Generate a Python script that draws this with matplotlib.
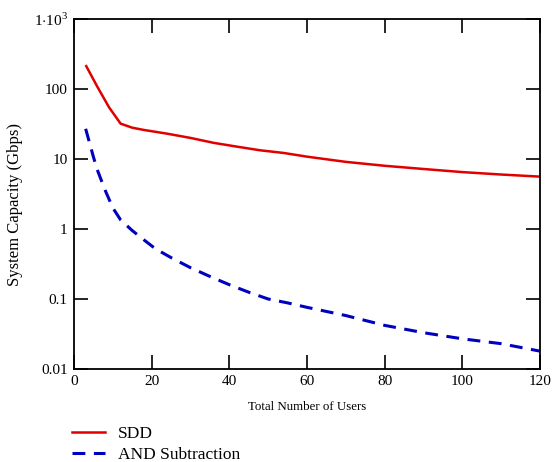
import matplotlib
matplotlib.use("Agg")
import matplotlib.pyplot as plt
from matplotlib.lines import Line2D

sdd_x = [3, 6, 9, 12, 15, 18, 24, 30, 36, 42, 48, 54, 60, 70, 80, 90, 100, 110, 120]
sdd_y = [220, 108, 55, 32, 28, 26, 23, 20, 17, 15, 13.3, 12.2, 10.8, 9.1, 8.0, 7.2, 6.5, 6.0, 5.6]

and_x = [3, 4, 5, 6, 8, 10, 12, 15, 18, 21, 25, 30, 35, 40, 45, 50, 55, 60, 70, 80, 90, 100, 110, 120]
and_y = [27, 17, 10.7, 7, 3.6, 2.0, 1.35, 0.95, 0.7, 0.52, 0.39, 0.28, 0.21, 0.16, 0.125, 0.1,
         0.088, 0.076, 0.058, 0.042, 0.033, 0.027, 0.023, 0.018]

x_ticks = [0, 20, 40, 60, 80, 100, 120]
y_ticks = [0.01, 0.1, 1, 10, 100, 1000]
y_tick_labels = ["0.01", "0.1", "1", "10", "100", r"1$\cdot$10$^{3}$"]

plt.rcParams['font.family'] = ['Liberation Serif', 'DejaVu Serif']
plt.rcParams['mathtext.fontset'] = 'custom'
plt.rcParams['mathtext.rm'] = 'Liberation Serif'

fig = plt.figure(figsize=(5.57, 4.62), dpi=100)
ax = fig.add_axes([74/557, 1-369/462, (540-74)/557, (369-19)/462])

ax.plot(sdd_x, sdd_y, color='#e00000', lw=1.8, solid_capstyle='butt')
ax.plot(and_x, and_y, color='#0000c0', lw=2.2, dashes=(4.2, 2.8))

ax.set_yscale('log')
ax.set_xlim(0, 120)
ax.set_ylim(0.01, 1000)
ax.set_xticks(x_ticks)
ax.set_xticklabels([str(v) for v in x_ticks])
ax.set_yticks(y_ticks)
ax.set_yticklabels(y_tick_labels)
ax.minorticks_off()
ax.tick_params(axis='both', which='major', direction='in', length=10, width=1.2,
               top=True, right=True, labelsize=11, pad=4.5, colors='black')
for s in ax.spines.values():
    s.set_linewidth(1.3)

ax.set_ylabel("System Capacity (Gbps)", fontsize=12)
ax.yaxis.set_label_coords((23-74)/466, 0.471)
fig.text(307/557, 1-407/462, "Total Number of Users", fontsize=9.3, ha='center', va='center')

handles = [Line2D([], [], color='#e00000', lw=1.8),
           Line2D([], [], color='#0000c0', lw=2.2, dashes=(4.2, 2.8))]
leg = fig.legend(handles, ["SDD", "AND Subtraction"], loc='upper left',
                 bbox_to_anchor=(72/557, 1-426/462), frameon=False, fontsize=12.5,
                 handlelength=1.9, handletextpad=0.75, labelspacing=0.25, borderaxespad=0,
                 borderpad=0)

fig.savefig("out.png", dpi=100)
